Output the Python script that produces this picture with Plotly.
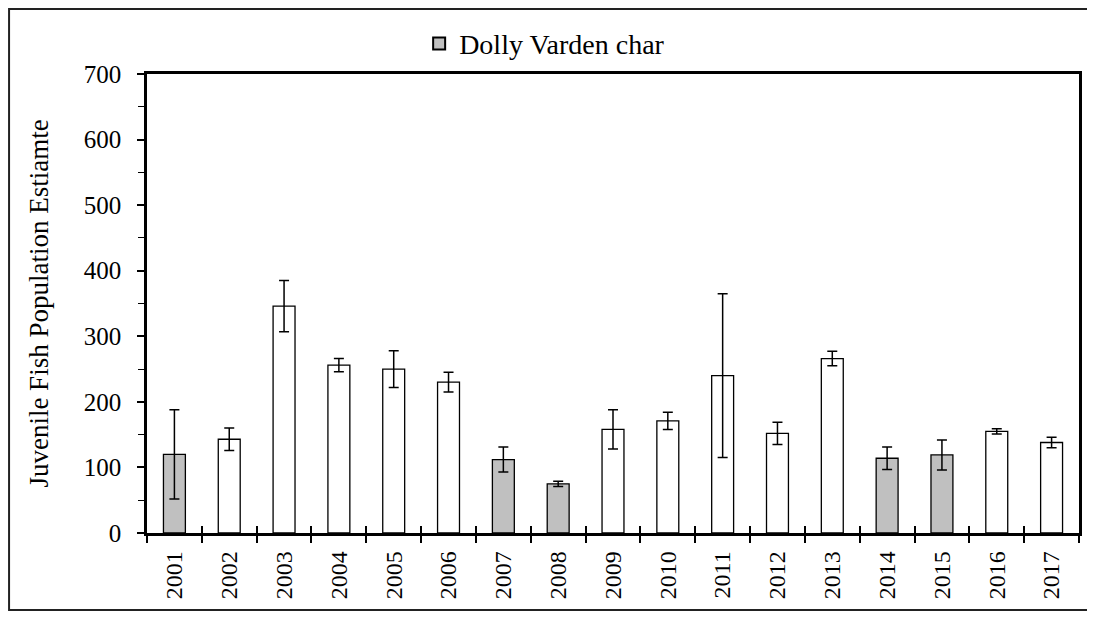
import plotly.graph_objects as go

years = ["2001", "2002", "2003", "2004", "2005", "2006", "2007", "2008", "2009",
         "2010", "2011", "2012", "2013", "2014", "2015", "2016", "2017"]
estimates = [120, 143, 346, 256, 250, 230, 112, 75, 158, 171, 240, 152, 266, 114, 119, 155, 138]
errors = [68, 17, 39, 10, 28, 15, 19, 4, 30, 13, 125, 17, 11, 17, 23, 4, 8]
shaded = [True, False, False, False, False, False, True, True, False,
          False, False, False, False, True, True, False, False]

positions = list(range(1, len(years) + 1))
colors = ["#C0C0C0" if s else "#FFFFFF" for s in shaded]
font = "Liberation Serif, Times New Roman, serif"

fig = go.Figure()
fig.add_trace(go.Bar(
    x=positions, y=estimates, name="Dolly Varden char",
    width=0.4,
    marker=dict(color=colors, line=dict(color="#000000", width=1.3)),
    error_y=dict(type="data", array=errors, visible=True, color="#000000",
                 thickness=1.5, width=5),
    showlegend=False,
))
# legend entry (grey square)
fig.add_trace(go.Bar(
    x=[None], y=[None], name="Dolly Varden char",
    marker=dict(color="#C0C0C0", line=dict(color="#000000", width=1)),
    showlegend=True,
))
# overlay axis for upward half of crossing category ticks
fig.add_trace(go.Scatter(x=[None], y=[None], xaxis="x2", showlegend=False))

fig.update_layout(
    width=1079, height=603,
    margin=dict(l=139, r=8, t=66, b=78, autoexpand=False),
    paper_bgcolor="white", plot_bgcolor="white",
    font=dict(family=font, color="#000000", size=24),
    showlegend=True,
    legend=dict(orientation="h", x=0.292, xanchor="left", y=1.066, yanchor="middle",
                font=dict(size=28, family=font), itemsizing="constant", itemwidth=30,
                bgcolor="rgba(0,0,0,0)"),
    bargap=0.6,
    xaxis=dict(
        range=[0.5, len(years) + 0.5],
        tickmode="array", tickvals=positions, ticktext=years,
        tickangle=-90, ticks="", tickfont=dict(size=24, family=font),
        ticklabelstandoff=6,
        showgrid=False, zeroline=False,
        showline=True, linecolor="#000000", linewidth=2.5, mirror=True,
        minor=dict(ticks="outside", tick0=0.5, dtick=1, ticklen=7, tickwidth=1.5,
                   tickcolor="#000000", showgrid=False),
    ),
    xaxis2=dict(
        overlaying="x", matches="x", side="bottom", anchor="y",
        range=[0.5, len(years) + 0.5],
        tickmode="array", tickvals=[p + 0.5 for p in [0] + positions],
        ticks="inside", ticklen=7, tickwidth=1.5, tickcolor="#000000",
        showticklabels=False, showgrid=False, zeroline=False, showline=False,
    ),
    yaxis=dict(
        range=[0, 700], tickmode="linear", tick0=0, dtick=100,
        ticks="outside", ticklen=7, tickwidth=1.5, tickcolor="#000000",
        tickfont=dict(size=25, family=font), ticklabelstandoff=11,
        showgrid=False, zeroline=False,
        showline=True, linecolor="#000000", linewidth=2.5, mirror=True,
        minor=dict(ticks="outside", dtick=50, ticklen=6, tickwidth=1.2,
                   tickcolor="#000000", showgrid=False),
        title=dict(text="Juvenile Fish Population Estiamte",
                   font=dict(size=27, family=font), standoff=28),
        automargin=False,
    ),
    shapes=[dict(type="rect", xref="paper", yref="paper",
                 x0=-0.148, x1=1.03, y0=-0.1678, y1=1.1416,
                 line=dict(color="#222222", width=2), fillcolor="rgba(0,0,0,0)",
                 layer="below")],
)

fig.write_html("out.html")
